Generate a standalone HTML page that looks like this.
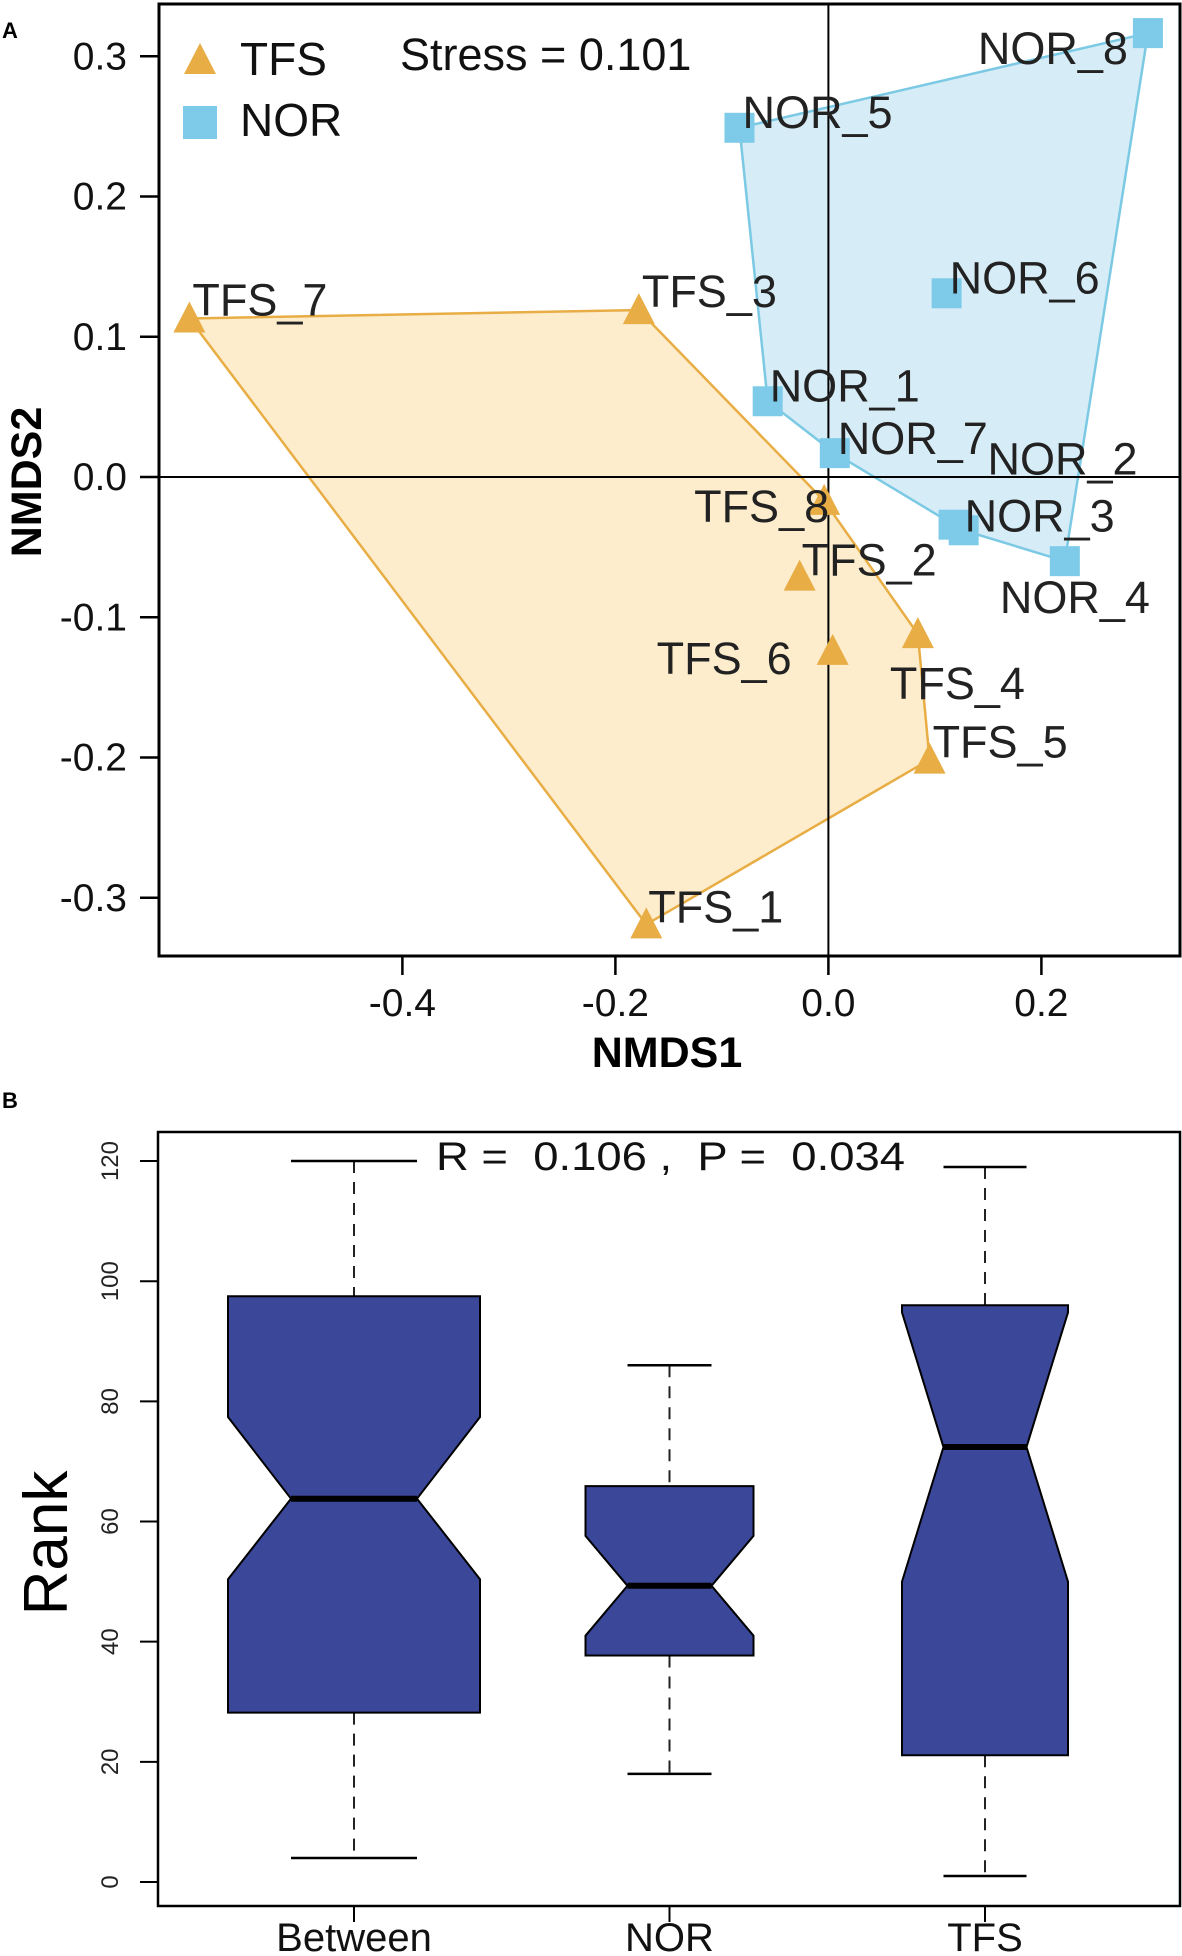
<!DOCTYPE html>
<html><head><meta charset="utf-8"><style>
html,body{margin:0;padding:0;background:#fff}
svg{display:block;font-family:"Liberation Sans",Arial,sans-serif}
</style></head><body>
<svg id="fig" width="1182" height="1956" viewBox="0 0 1182 1956" xmlns="http://www.w3.org/2000/svg">
<text x="2" y="38" font-size="22" font-weight="bold">A</text>
<text x="2" y="1108" font-size="22" font-weight="bold">B</text>
<g id="nmds"></g>
<g id="box"></g>
</svg>
<script>
const NS="http://www.w3.org/2000/svg";
// ---- NMDS data ----
const tfsNames=["TFS_1","TFS_2","TFS_3","TFS_4","TFS_5","TFS_6","TFS_7","TFS_8"];
const tfsX=[-0.171,-0.027,-0.178,0.084,0.095,0.004,-0.600,-0.004];
const tfsY=[-0.319,-0.071,0.119,-0.112,-0.2015,-0.124,0.113,-0.017];
const norNames=["NOR_1","NOR_2","NOR_3","NOR_4","NOR_5","NOR_6","NOR_7","NOR_8"];
const norX=[-0.057,0.1175,0.127,0.222,-0.0835,0.111,0.006,0.300];
const norY=[0.054,-0.034,-0.038,-0.060,0.249,0.131,0.017,0.3165];
const nmdsXTicks=[-0.4,-0.2,0.0,0.2];
const nmdsYTicks=[-0.3,-0.2,-0.1,0.0,0.1,0.2,0.3];
const stressText="Stress = 0.101";
// ---- Boxplot data ----
const groups=["Between","NOR","TFS"];
const whiskLo=[4,18,1];
const q1=[28.2,37.7,21.1];
const med=[63.8,49.3,72.4];
const q3=[97.5,65.9,96];
const notchLo=[50.4,41,50];
const notchHi=[77.4,57.6,94.8];
const whiskHi=[120,86,119];
const rankTicks=[0,20,40,60,80,100,120];
const statText="R =  0.106 ,  P =  0.034";

function el(tag,attrs,parent,txt){const e=document.createElementNS(NS,tag);for(const k in attrs)e.setAttribute(k,attrs[k]);if(txt!==undefined)e.textContent=txt;parent.appendChild(e);return e;}

// ===== NMDS =====
const g=document.getElementById('nmds');
const L=159,T=4,R=1180,B=956;
const sx=v=>828.4+v*1065, sy=v=>477-v*1402.5;
function hull(xs,ys){
  const p=xs.map((x,i)=>[sx(x),sy(ys[i])]).sort((a,b)=>a[0]-b[0]||a[1]-b[1]);
  const cr=(o,a,b)=>(a[0]-o[0])*(b[1]-o[1])-(a[1]-o[1])*(b[0]-o[0]);
  const lo=[],up=[];
  for(const q of p){while(lo.length>=2&&cr(lo[lo.length-2],lo[lo.length-1],q)<=0)lo.pop();lo.push(q);}
  for(const q of p.slice().reverse()){while(up.length>=2&&cr(up[up.length-2],up[up.length-1],q)<=0)up.pop();up.push(q);}
  return lo.slice(0,-1).concat(up.slice(0,-1)).map(q=>q.join(',')).join(' ');
}
let h1=el('polygon',{points:hull(tfsX,tfsY),fill:'#fdedcc',stroke:'#e8ad45','stroke-width':2.5},g);


let h2=el('polygon',{points:hull(norX,norY),fill:'#d6ecf7',stroke:'#7cc9e4','stroke-width':2.5},g);


let zl=el('line',{x1:sx(0),x2:sx(0),y1:T,y2:B,stroke:'#000','stroke-width':2},g);


let zh=el('line',{x1:L,x2:R,y1:sy(0),y2:sy(0),stroke:'#000','stroke-width':2},g);


let fr=el('rect',{x:L,y:T,width:R-L,height:B-T,fill:'none',stroke:'#000','stroke-width':3},g);


nmdsYTicks.forEach(v=>{
  let t=el('line',{x1:140,x2:L,y1:sy(v),y2:sy(v),stroke:'#000','stroke-width':2.5},g);
  
  
  let tx=el('text',{x:127,y:sy(v)+13,'font-size':39,'text-anchor':'end',fill:'#111'},g,v.toFixed(1));
  
  
});
nmdsXTicks.forEach(v=>{
  let t=el('line',{x1:sx(v),x2:sx(v),y1:B,y2:975,stroke:'#000','stroke-width':2.5},g);
  
  
  let tx=el('text',{x:sx(v),y:1016,'font-size':39,'text-anchor':'middle',fill:'#111'},g,v.toFixed(1));
  
  
});
let xt=el('text',{x:667,y:1067,'font-size':43,'font-weight':'bold','text-anchor':'middle'},g,'NMDS1');


let yt=el('text',{x:0,y:0,'font-size':43,'font-weight':'bold','text-anchor':'middle',transform:'translate(41,482) rotate(-90)'},g,'NMDS2');


function tri(cx,cy,c){return el('polygon',{points:`${cx-16},${cy+14} ${cx+16},${cy+14} ${cx},${cy-17}`,fill:c},g);}
function sq(cx,cy,c){return el('rect',{x:cx-15,y:cy-15,width:30,height:30,fill:c},g);}
const tfsLab=[[2,-2,'start'],[2,-1,'start'],[3,-3,'start'],[-28,65,'start'],[3,-2,'start'],[-41,23,'end'],[3,-3,'start'],[5,21,'end']];
const norLab=[[2,0,'start'],[34,-50,'start'],[1,1,'start'],[-65,52,'start'],[3,0,'start'],[3,0,'start'],[3,1,'start'],[-20,31,'end']];
tfsX.forEach((x,i)=>{
  let m=tri(sx(x),sy(tfsY[i]),'#e8ad45');
  
  
});
norX.forEach((x,i)=>{
  let m=sq(sx(x),sy(norY[i]),'#7dcbe8');
  
  
});
tfsX.forEach((x,i)=>{
  const o=tfsLab[i];
  let t=el('text',{x:sx(x)+o[0],y:sy(tfsY[i])+o[1],'font-size':45,'text-anchor':o[2],fill:'#222'},g,tfsNames[i]);
  
  
});
norX.forEach((x,i)=>{
  const o=norLab[i];
  let t=el('text',{x:sx(x)+o[0],y:sy(norY[i])+o[1],'font-size':45,'text-anchor':o[2],fill:'#222'},g,norNames[i]);
  
  
});
let lt=tri(200,60,'#e8ad45');


let ls=el('rect',{x:183,y:106,width:34,height:33,fill:'#7dcbe8'},g);


let ltt=el('text',{x:240,y:75,'font-size':46,fill:'#111'},g,'TFS');


let lnt=el('text',{x:240,y:136,'font-size':46,fill:'#111'},g,'NOR');


let st=el('text',{x:400,y:70,'font-size':45,fill:'#111'},g,stressText);



// ===== Boxplot =====
const b=document.getElementById('box');
const BL=158,BT=1132,BR=1180,BB=1906;
const by=v=>1882-v*6.008;
const bx=i=>354+i*315.5;
const halfW=[126,84,83];
let bf=el('rect',{x:BL,y:BT,width:BR-BL,height:BB-BT,fill:'none',stroke:'#000','stroke-width':2.5},b);


rankTicks.forEach(v=>{
  let t=el('line',{x1:140,x2:BL,y1:by(v),y2:by(v),stroke:'#000','stroke-width':2},b);
  
  
  let tx=el('text',{x:0,y:0,'font-size':24,'text-anchor':'middle',fill:'#222',transform:`translate(118,${by(v)}) rotate(-90)`},b,String(v));
  
  
});
let rk=el('text',{x:0,y:0,'font-size':62,'text-anchor':'middle',fill:'#000',transform:'translate(67,1543) rotate(-90)'},b,'Rank');


groups.forEach((name,i)=>{
  const c=bx(i),w=halfW[i],nw=w/2,cw=w/2;
  let wl=el('line',{x1:c,x2:c,y1:by(whiskHi[i]),y2:by(q3[i]),stroke:'#222','stroke-width':2,'stroke-dasharray':'12,9'},b);
  
  
  let wl2=el('line',{x1:c,x2:c,y1:by(q1[i]),y2:by(whiskLo[i]),stroke:'#222','stroke-width':2,'stroke-dasharray':'12,9'},b);
  
  
  let c1=el('line',{x1:c-cw,x2:c+cw,y1:by(whiskHi[i]),y2:by(whiskHi[i]),stroke:'#000','stroke-width':2.5},b);
  
  
  let c2=el('line',{x1:c-cw,x2:c+cw,y1:by(whiskLo[i]),y2:by(whiskLo[i]),stroke:'#000','stroke-width':2.5},b);
  
  
  const nh=Math.min(notchHi[i],q3[i]), nl=Math.max(notchLo[i],q1[i]);
  const pts=[[c-w,by(q3[i])],[c+w,by(q3[i])],[c+w,by(nh)],[c+nw,by(med[i])],[c+w,by(nl)],[c+w,by(q1[i])],
             [c-w,by(q1[i])],[c-w,by(nl)],[c-nw,by(med[i])],[c-w,by(nh)]];
  let bx_=el('polygon',{points:pts.map(p=>p.join(',')).join(' '),fill:'#3b4799',stroke:'#000','stroke-width':2},b);
  
  
  let md=el('line',{x1:c-nw,x2:c+nw,y1:by(med[i]),y2:by(med[i]),stroke:'#000','stroke-width':6},b);
  
  
  let tk=el('line',{x1:c,x2:c,y1:BB,y2:1922,stroke:'#000','stroke-width':2},b);
  
  
  let lb=el('text',{x:c,y:1951,'font-size':40,'text-anchor':'middle',fill:'#111'},b,name);
  
  
});
let sa=el('rect',{x:428,y:1136,width:484,height:42,fill:'#fff'},b);


let stt=el('text',{x:436,y:1170,'font-size':40,fill:'#111',style:'white-space:pre',textLength:469,lengthAdjust:'spacingAndGlyphs'},b,statText);


</script>
</body></html>
